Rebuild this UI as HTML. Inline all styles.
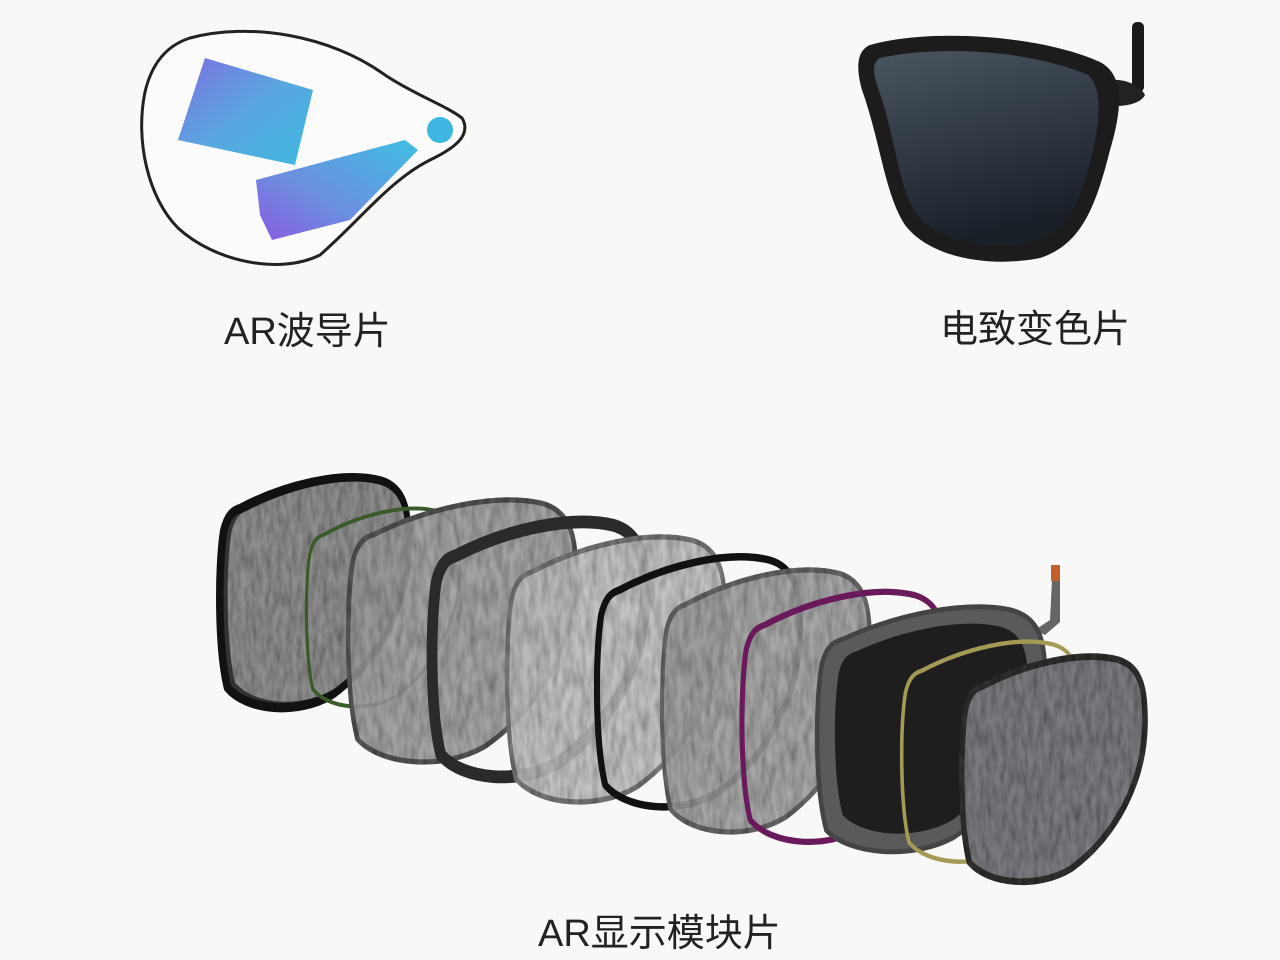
<!DOCTYPE html>
<html><head><meta charset="utf-8"><style>
html,body{margin:0;padding:0;background:#f8f8f6;}
.lbl{position:absolute;font-family:"Liberation Sans","Noto Sans CJK SC",sans-serif;font-size:38px;color:#222;white-space:nowrap;}
</style></head><body>
<div style="position:relative;width:1280px;height:960px;overflow:hidden;">
<svg width="1280" height="960" viewBox="0 0 1280 960" style="position:absolute;left:0;top:0">
<defs>
<filter id="tex" x="-0.1" y="-0.1" width="1.2" height="1.2">
<feTurbulence type="fractalNoise" baseFrequency="0.35 0.12" numOctaves="2" seed="3" result="n"/>
<feColorMatrix in="n" type="matrix" values="0 0 0 0 0  0 0 0 0 0  0 0 0 0 0  0 0 0 0.9 -0.25" result="d"/>
<feComposite in="d" in2="SourceGraphic" operator="in" result="dd"/>
<feMerge><feMergeNode in="SourceGraphic"/><feMergeNode in="dd"/></feMerge>
</filter>
<linearGradient id="g1" x1="0" y1="0" x2="1" y2="1"><stop offset="0" stop-color="#7d6fe0"/><stop offset="0.5" stop-color="#5aa6e0"/><stop offset="1" stop-color="#3fb9e0"/></linearGradient>
<linearGradient id="g2" x1="1" y1="0" x2="0" y2="1"><stop offset="0" stop-color="#3fbfe2"/><stop offset="0.6" stop-color="#6c8ee0"/><stop offset="1" stop-color="#8a5be0"/></linearGradient>
<linearGradient id="gl" x1="0" y1="0" x2="0.3" y2="1"><stop offset="0" stop-color="#4a5560"/><stop offset="1" stop-color="#1a2028"/></linearGradient>
<path id="L" d="M12,14 C35,4 65,-2 85,2 C98,5 100,15 100,30 C100,55 85,80 60,95 C42,104 15,102 5,92 C0,75 0,40 3,24 C5,17 8,15 12,14 Z"/>
</defs>

<!-- waveguide -->
<path d="M190,38 C250,22 330,35 385,75 C415,95 445,105 462,118 C472,135 455,148 430,160 C390,180 360,220 320,255 C280,275 215,262 178,228 C148,198 135,140 145,92 C152,62 168,45 190,38 Z" fill="#fbfbfb" stroke="#222" stroke-width="3"/>
<polygon points="205,58 313,90 295,165 178,140" fill="url(#g1)"/>
<polygon points="256,180 405,140 418,150 350,220 272,240 260,215" fill="url(#g2)"/>
<circle cx="440" cy="130" r="13" fill="#3db7e2"/>

<!-- electrochromic lens -->
<rect x="1132" y="22" width="12" height="70" rx="5" fill="#1a1a1a"/>
<path d="M1105,80 C1125,78 1140,85 1145,95 C1140,105 1120,108 1100,105 Z" fill="#222"/>
<path d="M870,45 C930,28 1040,35 1100,62 C1125,75 1122,110 1110,150 C1095,210 1080,245 1040,258 C990,268 930,258 905,225 C885,195 880,140 862,90 C855,65 858,50 870,45 Z" fill="#1c1c1c"/>
<path d="M880,58 C940,45 1030,50 1088,75 C1103,88 1100,120 1092,155 C1080,205 1065,235 1030,243 C985,250 935,242 915,212 C898,185 894,130 878,88 C872,70 873,62 880,58 Z" fill="url(#gl)"/>

<!-- exploded layers -->
<use href="#L" transform="translate(218,476) scale(1.9,2.3)" fill="#333" stroke="#111" stroke-width="4" vector-effect="non-scaling-stroke"/>
<use href="#L" transform="translate(226,480) scale(1.8,2.2)" fill="#8e8e8e" filter="url(#tex)"/>
<use href="#L" transform="translate(305,507) scale(1.55,1.98)" fill="none" stroke="#3a5a2a" stroke-width="2" vector-effect="non-scaling-stroke"/>
<use href="#L" transform="translate(346,498) scale(2.3,2.62)" fill="#9a9a9a" fill-opacity="0.9" stroke="#555" stroke-width="2" vector-effect="non-scaling-stroke" filter="url(#tex)"/>
<use href="#L" transform="translate(430,520) scale(2.15,2.55)" fill="none" stroke="#2a2a2a" stroke-width="5" vector-effect="non-scaling-stroke"/>
<use href="#L" transform="translate(505,535) scale(2.2,2.65)" fill="#bdbdbd" fill-opacity="0.9" stroke="#777" stroke-width="2" vector-effect="non-scaling-stroke" filter="url(#tex)"/>
<use href="#L" transform="translate(595,555) scale(2.05,2.5)" fill="none" stroke="#111" stroke-width="3" vector-effect="non-scaling-stroke"/>
<use href="#L" transform="translate(660,568) scale(2.1,2.62)" fill="#9c9c9c" fill-opacity="0.9" stroke="#666" stroke-width="2" vector-effect="non-scaling-stroke" filter="url(#tex)"/>
<use href="#L" transform="translate(740,590) scale(2.05,2.5)" fill="none" stroke="#6a1a5a" stroke-width="2.5" vector-effect="non-scaling-stroke"/>
<path d="M1035,630 L1050,620 L1052,580 L1060,578 L1060,622 L1045,635 Z" fill="#666"/>
<rect x="1051" y="565" width="9" height="16" fill="#c0602a"/>
<use href="#L" transform="translate(815,605) scale(2.3,2.45)" fill="#5a5a5a" stroke="#444" stroke-width="2" vector-effect="non-scaling-stroke"/>
<use href="#L" transform="translate(833,622) scale(1.95,2.1)" fill="#1e1e1e"/>
<use href="#L" transform="translate(900,640) scale(1.8,2.2)" fill="none" stroke="#a39a55" stroke-width="2" vector-effect="non-scaling-stroke"/>
<use href="#L" transform="translate(960,655) scale(1.85,2.25)" fill="#7a7a80" stroke="#333" stroke-width="3" vector-effect="non-scaling-stroke" filter="url(#tex)"/>
</svg>
<div class="lbl" style="left:224px;top:300px;">AR波导片</div>
<div class="lbl" style="left:940px;top:298px;">电致变色片</div>
<div class="lbl" style="left:538px;top:902px;">AR显示模块片</div>
</div>
</body></html>
